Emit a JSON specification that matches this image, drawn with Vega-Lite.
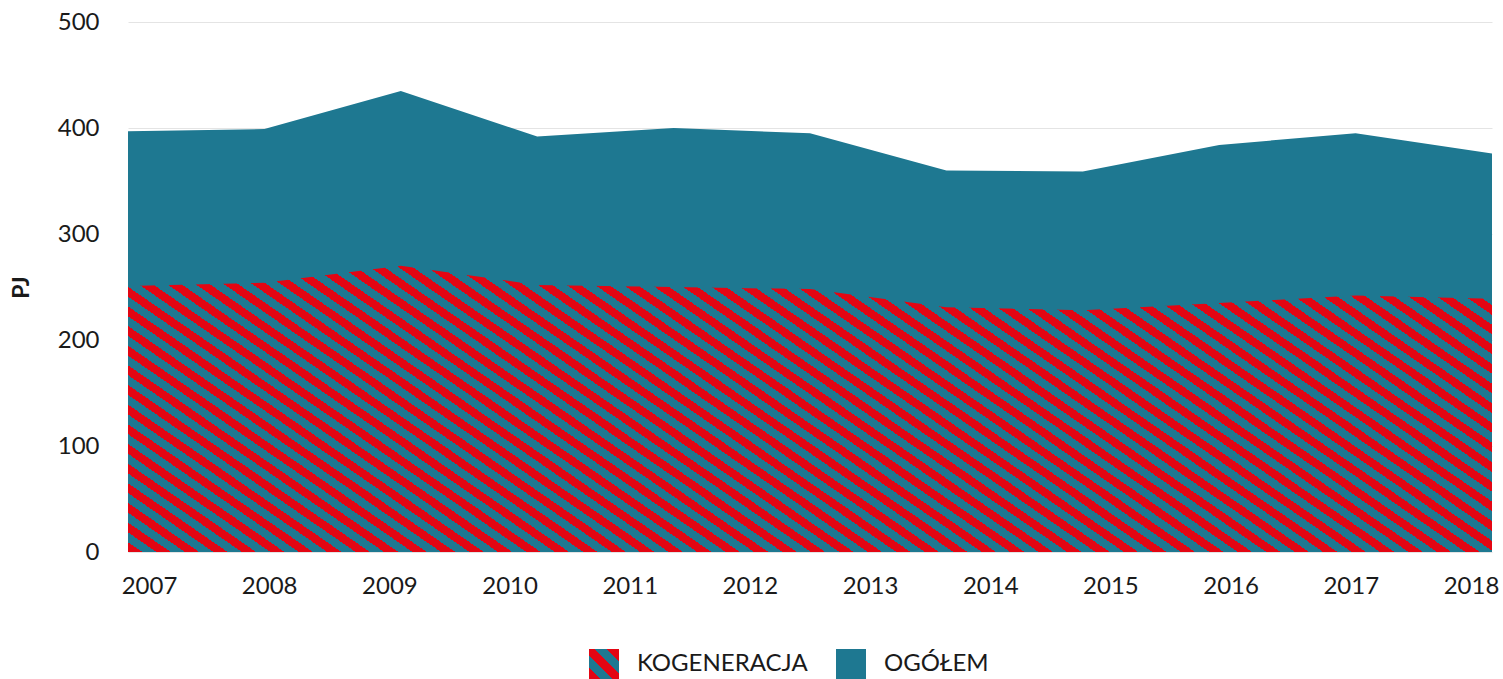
{
  "$schema": "https://vega.github.io/schema/vega-lite/v6.json",
  "autosize": {"type": "none"},
  "padding": {"left": 128, "top": 22, "right": 11, "bottom": 127},
  "width": 1364,
  "height": 530,
  "background": "white",
  "datasets": {
    "obszar": [
      {"rok": 2007, "ogolem": 397, "kogeneracja": 251},
      {"rok": 2008, "ogolem": 399, "kogeneracja": 254},
      {"rok": 2009, "ogolem": 435, "kogeneracja": 270},
      {"rok": 2010, "ogolem": 392, "kogeneracja": 252},
      {"rok": 2011, "ogolem": 400, "kogeneracja": 250},
      {"rok": 2012, "ogolem": 395, "kogeneracja": 248},
      {"rok": 2013, "ogolem": 360, "kogeneracja": 231},
      {"rok": 2014, "ogolem": 359, "kogeneracja": 228},
      {"rok": 2015, "ogolem": 384, "kogeneracja": 235},
      {"rok": 2016, "ogolem": 395, "kogeneracja": 242},
      {"rok": 2017, "ogolem": 376, "kogeneracja": 239}
    ],
    "lata": [
      {"rok": 2007}, {"rok": 2008}, {"rok": 2009}, {"rok": 2010},
      {"rok": 2011}, {"rok": 2012}, {"rok": 2013}, {"rok": 2014},
      {"rok": 2015}, {"rok": 2016}, {"rok": 2017}, {"rok": 2018}
    ]
  },
  "layer": [
    {
      "data": {"name": "obszar"},
      "mark": {"type": "area", "opacity": 1, "color": "#1e7891"},
      "encoding": {
        "x": {"field": "rok", "type": "ordinal", "scale": {"type": "point", "padding": 0}, "axis": null},
        "y": {"field": "ogolem", "type": "quantitative", "title": "PJ", "scale": {"domain": [0, 500], "nice": false}}
      }
    },
    {
      "data": {"name": "obszar"},
      "mark": {"type": "area", "opacity": 1},
      "encoding": {
        "x": {"field": "rok", "type": "ordinal", "scale": {"type": "point", "padding": 0}, "axis": null},
        "y": {"field": "kogeneracja", "type": "quantitative", "title": "PJ", "scale": {"domain": [0, 500], "nice": false}},
        "fill": {
          "value": {
            "gradient": "linear",
            "x1": 0, "y1": 1, "x2": 1.1937, "y2": 0.6373,
            "stops": [
              {"offset": 0, "color": "#e30613"}, {"offset": 0.008, "color": "#e30613"}, {"offset": 0.008, "color": "#1e7891"}, {"offset": 0.016, "color": "#1e7891"},
              {"offset": 0.016, "color": "#e30613"}, {"offset": 0.024, "color": "#e30613"}, {"offset": 0.024, "color": "#1e7891"}, {"offset": 0.032, "color": "#1e7891"},
              {"offset": 0.032, "color": "#e30613"}, {"offset": 0.04, "color": "#e30613"}, {"offset": 0.04, "color": "#1e7891"}, {"offset": 0.048, "color": "#1e7891"},
              {"offset": 0.048, "color": "#e30613"}, {"offset": 0.056, "color": "#e30613"}, {"offset": 0.056, "color": "#1e7891"}, {"offset": 0.064, "color": "#1e7891"},
              {"offset": 0.064, "color": "#e30613"}, {"offset": 0.072, "color": "#e30613"}, {"offset": 0.072, "color": "#1e7891"}, {"offset": 0.08, "color": "#1e7891"},
              {"offset": 0.08, "color": "#e30613"}, {"offset": 0.088, "color": "#e30613"}, {"offset": 0.088, "color": "#1e7891"}, {"offset": 0.096, "color": "#1e7891"},
              {"offset": 0.096, "color": "#e30613"}, {"offset": 0.104, "color": "#e30613"}, {"offset": 0.104, "color": "#1e7891"}, {"offset": 0.112, "color": "#1e7891"},
              {"offset": 0.112, "color": "#e30613"}, {"offset": 0.12, "color": "#e30613"}, {"offset": 0.12, "color": "#1e7891"}, {"offset": 0.128, "color": "#1e7891"},
              {"offset": 0.128, "color": "#e30613"}, {"offset": 0.136, "color": "#e30613"}, {"offset": 0.136, "color": "#1e7891"}, {"offset": 0.144, "color": "#1e7891"},
              {"offset": 0.144, "color": "#e30613"}, {"offset": 0.152, "color": "#e30613"}, {"offset": 0.152, "color": "#1e7891"}, {"offset": 0.16, "color": "#1e7891"},
              {"offset": 0.16, "color": "#e30613"}, {"offset": 0.168, "color": "#e30613"}, {"offset": 0.168, "color": "#1e7891"}, {"offset": 0.176, "color": "#1e7891"},
              {"offset": 0.176, "color": "#e30613"}, {"offset": 0.184, "color": "#e30613"}, {"offset": 0.184, "color": "#1e7891"}, {"offset": 0.192, "color": "#1e7891"},
              {"offset": 0.192, "color": "#e30613"}, {"offset": 0.2, "color": "#e30613"}, {"offset": 0.2, "color": "#1e7891"}, {"offset": 0.208, "color": "#1e7891"},
              {"offset": 0.208, "color": "#e30613"}, {"offset": 0.216, "color": "#e30613"}, {"offset": 0.216, "color": "#1e7891"}, {"offset": 0.224, "color": "#1e7891"},
              {"offset": 0.224, "color": "#e30613"}, {"offset": 0.232, "color": "#e30613"}, {"offset": 0.232, "color": "#1e7891"}, {"offset": 0.24, "color": "#1e7891"},
              {"offset": 0.24, "color": "#e30613"}, {"offset": 0.248, "color": "#e30613"}, {"offset": 0.248, "color": "#1e7891"}, {"offset": 0.256, "color": "#1e7891"},
              {"offset": 0.256, "color": "#e30613"}, {"offset": 0.264, "color": "#e30613"}, {"offset": 0.264, "color": "#1e7891"}, {"offset": 0.272, "color": "#1e7891"},
              {"offset": 0.272, "color": "#e30613"}, {"offset": 0.28, "color": "#e30613"}, {"offset": 0.28, "color": "#1e7891"}, {"offset": 0.288, "color": "#1e7891"},
              {"offset": 0.288, "color": "#e30613"}, {"offset": 0.296, "color": "#e30613"}, {"offset": 0.296, "color": "#1e7891"}, {"offset": 0.304, "color": "#1e7891"},
              {"offset": 0.304, "color": "#e30613"}, {"offset": 0.312, "color": "#e30613"}, {"offset": 0.312, "color": "#1e7891"}, {"offset": 0.32, "color": "#1e7891"},
              {"offset": 0.32, "color": "#e30613"}, {"offset": 0.328, "color": "#e30613"}, {"offset": 0.328, "color": "#1e7891"}, {"offset": 0.336, "color": "#1e7891"},
              {"offset": 0.336, "color": "#e30613"}, {"offset": 0.344, "color": "#e30613"}, {"offset": 0.344, "color": "#1e7891"}, {"offset": 0.352, "color": "#1e7891"},
              {"offset": 0.352, "color": "#e30613"}, {"offset": 0.36, "color": "#e30613"}, {"offset": 0.36, "color": "#1e7891"}, {"offset": 0.368, "color": "#1e7891"},
              {"offset": 0.368, "color": "#e30613"}, {"offset": 0.376, "color": "#e30613"}, {"offset": 0.376, "color": "#1e7891"}, {"offset": 0.384, "color": "#1e7891"},
              {"offset": 0.384, "color": "#e30613"}, {"offset": 0.392, "color": "#e30613"}, {"offset": 0.392, "color": "#1e7891"}, {"offset": 0.4, "color": "#1e7891"},
              {"offset": 0.4, "color": "#e30613"}, {"offset": 0.408, "color": "#e30613"}, {"offset": 0.408, "color": "#1e7891"}, {"offset": 0.416, "color": "#1e7891"},
              {"offset": 0.416, "color": "#e30613"}, {"offset": 0.424, "color": "#e30613"}, {"offset": 0.424, "color": "#1e7891"}, {"offset": 0.432, "color": "#1e7891"},
              {"offset": 0.432, "color": "#e30613"}, {"offset": 0.44, "color": "#e30613"}, {"offset": 0.44, "color": "#1e7891"}, {"offset": 0.448, "color": "#1e7891"},
              {"offset": 0.448, "color": "#e30613"}, {"offset": 0.456, "color": "#e30613"}, {"offset": 0.456, "color": "#1e7891"}, {"offset": 0.464, "color": "#1e7891"},
              {"offset": 0.464, "color": "#e30613"}, {"offset": 0.472, "color": "#e30613"}, {"offset": 0.472, "color": "#1e7891"}, {"offset": 0.48, "color": "#1e7891"},
              {"offset": 0.48, "color": "#e30613"}, {"offset": 0.488, "color": "#e30613"}, {"offset": 0.488, "color": "#1e7891"}, {"offset": 0.496, "color": "#1e7891"},
              {"offset": 0.496, "color": "#e30613"}, {"offset": 0.504, "color": "#e30613"}, {"offset": 0.504, "color": "#1e7891"}, {"offset": 0.512, "color": "#1e7891"},
              {"offset": 0.512, "color": "#e30613"}, {"offset": 0.52, "color": "#e30613"}, {"offset": 0.52, "color": "#1e7891"}, {"offset": 0.528, "color": "#1e7891"},
              {"offset": 0.528, "color": "#e30613"}, {"offset": 0.536, "color": "#e30613"}, {"offset": 0.536, "color": "#1e7891"}, {"offset": 0.544, "color": "#1e7891"},
              {"offset": 0.544, "color": "#e30613"}, {"offset": 0.552, "color": "#e30613"}, {"offset": 0.552, "color": "#1e7891"}, {"offset": 0.56, "color": "#1e7891"},
              {"offset": 0.56, "color": "#e30613"}, {"offset": 0.568, "color": "#e30613"}, {"offset": 0.568, "color": "#1e7891"}, {"offset": 0.576, "color": "#1e7891"},
              {"offset": 0.576, "color": "#e30613"}, {"offset": 0.584, "color": "#e30613"}, {"offset": 0.584, "color": "#1e7891"}, {"offset": 0.592, "color": "#1e7891"},
              {"offset": 0.592, "color": "#e30613"}, {"offset": 0.6, "color": "#e30613"}, {"offset": 0.6, "color": "#1e7891"}, {"offset": 0.608, "color": "#1e7891"},
              {"offset": 0.608, "color": "#e30613"}, {"offset": 0.616, "color": "#e30613"}, {"offset": 0.616, "color": "#1e7891"}, {"offset": 0.624, "color": "#1e7891"},
              {"offset": 0.624, "color": "#e30613"}, {"offset": 0.632, "color": "#e30613"}, {"offset": 0.632, "color": "#1e7891"}, {"offset": 0.64, "color": "#1e7891"},
              {"offset": 0.64, "color": "#e30613"}, {"offset": 0.648, "color": "#e30613"}, {"offset": 0.648, "color": "#1e7891"}, {"offset": 0.656, "color": "#1e7891"},
              {"offset": 0.656, "color": "#e30613"}, {"offset": 0.664, "color": "#e30613"}, {"offset": 0.664, "color": "#1e7891"}, {"offset": 0.672, "color": "#1e7891"},
              {"offset": 0.672, "color": "#e30613"}, {"offset": 0.68, "color": "#e30613"}, {"offset": 0.68, "color": "#1e7891"}, {"offset": 0.688, "color": "#1e7891"},
              {"offset": 0.688, "color": "#e30613"}, {"offset": 0.696, "color": "#e30613"}, {"offset": 0.696, "color": "#1e7891"}, {"offset": 0.704, "color": "#1e7891"},
              {"offset": 0.704, "color": "#e30613"}, {"offset": 0.712, "color": "#e30613"}, {"offset": 0.712, "color": "#1e7891"}, {"offset": 0.72, "color": "#1e7891"},
              {"offset": 0.72, "color": "#e30613"}, {"offset": 0.728, "color": "#e30613"}, {"offset": 0.728, "color": "#1e7891"}, {"offset": 0.736, "color": "#1e7891"},
              {"offset": 0.736, "color": "#e30613"}, {"offset": 0.744, "color": "#e30613"}, {"offset": 0.744, "color": "#1e7891"}, {"offset": 0.752, "color": "#1e7891"},
              {"offset": 0.752, "color": "#e30613"}, {"offset": 0.76, "color": "#e30613"}, {"offset": 0.76, "color": "#1e7891"}, {"offset": 0.768, "color": "#1e7891"},
              {"offset": 0.768, "color": "#e30613"}, {"offset": 0.776, "color": "#e30613"}, {"offset": 0.776, "color": "#1e7891"}, {"offset": 0.784, "color": "#1e7891"},
              {"offset": 0.784, "color": "#e30613"}, {"offset": 0.792, "color": "#e30613"}, {"offset": 0.792, "color": "#1e7891"}, {"offset": 0.8, "color": "#1e7891"},
              {"offset": 0.8, "color": "#e30613"}, {"offset": 0.808, "color": "#e30613"}, {"offset": 0.808, "color": "#1e7891"}, {"offset": 0.816, "color": "#1e7891"},
              {"offset": 0.816, "color": "#e30613"}, {"offset": 0.824, "color": "#e30613"}, {"offset": 0.824, "color": "#1e7891"}, {"offset": 0.832, "color": "#1e7891"},
              {"offset": 0.832, "color": "#e30613"}, {"offset": 0.84, "color": "#e30613"}, {"offset": 0.84, "color": "#1e7891"}, {"offset": 0.848, "color": "#1e7891"},
              {"offset": 0.848, "color": "#e30613"}, {"offset": 0.856, "color": "#e30613"}, {"offset": 0.856, "color": "#1e7891"}, {"offset": 0.864, "color": "#1e7891"},
              {"offset": 0.864, "color": "#e30613"}, {"offset": 0.872, "color": "#e30613"}, {"offset": 0.872, "color": "#1e7891"}, {"offset": 0.88, "color": "#1e7891"},
              {"offset": 0.88, "color": "#e30613"}, {"offset": 0.888, "color": "#e30613"}, {"offset": 0.888, "color": "#1e7891"}, {"offset": 0.896, "color": "#1e7891"},
              {"offset": 0.896, "color": "#e30613"}, {"offset": 0.904, "color": "#e30613"}, {"offset": 0.904, "color": "#1e7891"}, {"offset": 0.912, "color": "#1e7891"},
              {"offset": 0.912, "color": "#e30613"}, {"offset": 0.92, "color": "#e30613"}, {"offset": 0.92, "color": "#1e7891"}, {"offset": 0.928, "color": "#1e7891"},
              {"offset": 0.928, "color": "#e30613"}, {"offset": 0.936, "color": "#e30613"}, {"offset": 0.936, "color": "#1e7891"}, {"offset": 0.944, "color": "#1e7891"},
              {"offset": 0.944, "color": "#e30613"}, {"offset": 0.952, "color": "#e30613"}, {"offset": 0.952, "color": "#1e7891"}, {"offset": 0.96, "color": "#1e7891"},
              {"offset": 0.96, "color": "#e30613"}, {"offset": 0.968, "color": "#e30613"}, {"offset": 0.968, "color": "#1e7891"}, {"offset": 0.976, "color": "#1e7891"},
              {"offset": 0.976, "color": "#e30613"}, {"offset": 0.984, "color": "#e30613"}, {"offset": 0.984, "color": "#1e7891"}, {"offset": 0.992, "color": "#1e7891"},
              {"offset": 0.992, "color": "#e30613"}, {"offset": 1, "color": "#e30613"}
            ]
          }
        }
      }
    },
    {
      "data": {"name": "lata"},
      "mark": {"type": "point", "opacity": 0},
      "encoding": {
        "x": {
          "field": "rok",
          "type": "ordinal",
          "scale": {"type": "point", "padding": 0.175},
          "axis": {
            "orient": "bottom",
            "title": null,
            "labelAngle": 0,
            "domain": false,
            "ticks": false,
            "tickSize": 0,
            "grid": false,
            "labelPadding": 22,
            "labelFont": "Lato",
            "labelFontSize": 24,
            "labelColor": "#1a1a1a"
          }
        }
      }
    },
    {
      "data": {"name": "lata"},
      "transform": [{"filter": "false"}],
      "mark": {"type": "square", "opacity": 1, "filled": true},
      "encoding": {
        "color": {
          "datum": "OGÓŁEM",
          "type": "nominal",
          "scale": {
            "domain": ["KOGENERACJA", "OGÓŁEM"],
            "range": [
              {"expr": "{gradient: 'linear', x1: 0, y1: 1, x2: 1, y2: 0, stops: [{offset: 0, color: '#e30613'}, {offset: 0.2, color: '#e30613'}, {offset: 0.2, color: '#1e7891'}, {offset: 0.4, color: '#1e7891'}, {offset: 0.4, color: '#e30613'}, {offset: 0.6, color: '#e30613'}, {offset: 0.6, color: '#1e7891'}, {offset: 0.8, color: '#1e7891'}, {offset: 0.8, color: '#e30613'}, {offset: 1, color: '#e30613'}]}"},
              "#1e7891"
            ]
          },
          "legend": {
            "title": null,
            "orient": "none",
            "legendX": 461,
            "legendY": 627,
            "direction": "horizontal",
            "symbolType": "square",
            "symbolSize": 900,
            "symbolStrokeWidth": 0,
            "symbolOpacity": 1,
            "labelFont": "Lato",
            "labelFontSize": 24,
            "labelColor": "#1a1a1a",
            "labelLimit": 0,
            "labelOffset": 18,
            "columnPadding": 28,
            "padding": 0
          }
        }
      }
    }
  ],
  "resolve": {"scale": {"x": "independent"}},
  "config": {
    "view": {"stroke": null},
    "axisY": {
      "grid": true,
      "gridColor": "#e4e4e4",
      "gridWidth": 1,
      "domain": false,
      "ticks": false,
      "tickSize": 0,
      "tickCount": 5,
      "labelPadding": 29,
      "labelFont": "Lato",
      "labelFontSize": 24,
      "labelColor": "#1a1a1a",
      "titleFont": "Lato",
      "titleFontSize": 23,
      "titleFontWeight": "bold",
      "titleColor": "#1a1a1a",
      "titlePadding": 24
    }
  }
}
